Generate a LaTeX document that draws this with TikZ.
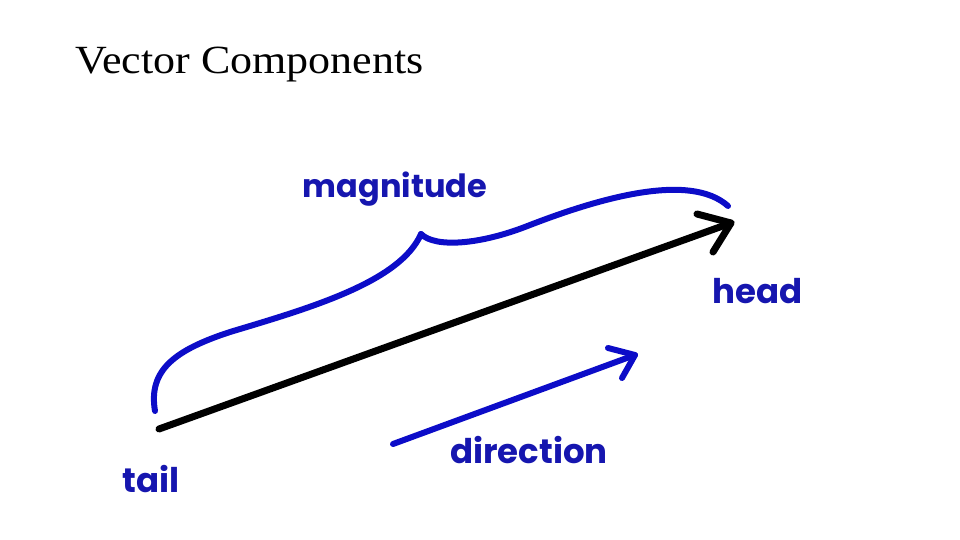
\documentclass[tikz,border=0pt]{standalone}
\usepackage{fontspec}
\setmainfont{Liberation Serif}
\newfontfamily\lblfont{Poppins}
\definecolor{penblue}{RGB}{12,12,200}
\definecolor{txtblue}{RGB}{22,22,175}
\begin{document}
\begin{tikzpicture}[x=1pt,y=-1pt,
  lbl/.style={text=txtblue,font=\lblfont\bfseries\fontsize{34}{40}\selectfont,anchor=base,inner sep=0pt},
  blackpen/.style={draw=black,line width=7pt,line cap=round,line join=round},
  bluepen/.style={draw=penblue,line width=6pt,line cap=round,line join=round}]
\useasboundingbox (0,0) rectangle (960,540);
\node[anchor=base west,inner sep=0pt,xscale=1.1,font=\fontsize{40}{48}\selectfont] (title) at (75,74) {Vector Components};
% coordinates
\coordinate (tail) at (159,429);
\coordinate (tip) at (731,223);
\coordinate (tipA) at (697,214);
\coordinate (tipB) at (713,252);
\coordinate (dstart) at (393,444);
\coordinate (dtip) at (635,355);
\coordinate (dA) at (608,348);
\coordinate (dB) at (622,378);
\coordinate (bl) at (155,411);
\coordinate (bm) at (230,332);
\coordinate (btip) at (421,234);
\coordinate (bm2) at (530,225);
\coordinate (br) at (728,206);
% main vector
\draw[blackpen] (tail) -- (tip);
\draw[blackpen] (tipA) -- (tip) -- (tipB);
% brace
\draw[bluepen] (bl) .. controls (148,370) and (175,350) .. (bm)
  .. controls (310,308) and (400,282) .. (btip);
\draw[bluepen] (btip) .. controls (435,248) and (480,245) .. (bm2)
  .. controls (600,198) and (690,172) .. (br);
% direction arrow
\draw[bluepen] (dstart) -- (dtip);
\draw[bluepen] (dA) -- (dtip) -- (dB);
% labels
\node[lbl,font=\lblfont\bfseries\fontsize{32}{40}\selectfont] (magnitude) at (395,197) {magnitude};
\node[lbl] (headlbl) at (758,303) {head};
\node[lbl] (taillbl) at (151,492) {tail};
\node[lbl] (dirlbl) at (529,463) {direction};
\end{tikzpicture}
\end{document}
